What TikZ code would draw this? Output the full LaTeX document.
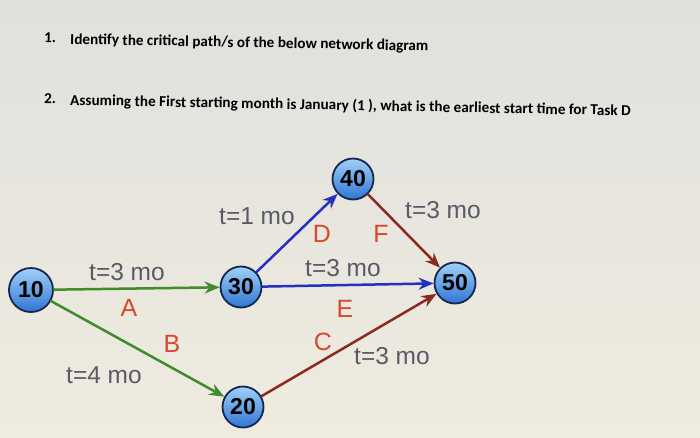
\documentclass[tikz,border=0pt]{standalone}
\usepackage{fontspec}
\setmainfont{Liberation Sans}
\newfontfamily\hdfont{Carlito}
\usetikzlibrary{arrows.meta}
\definecolor{grn}{RGB}{62,140,42}
\definecolor{blu}{RGB}{38,48,190}
\definecolor{brn}{RGB}{138,42,32}
\definecolor{lbl}{RGB}{88,90,102}
\definecolor{ltrc}{RGB}{216,72,46}
\definecolor{ring}{RGB}{22,38,78}
\definecolor{bgtop}{RGB}{224,224,221}
\definecolor{bgbot}{RGB}{239,235,223}
\definecolor{evtop}{RGB}{160,208,248}
\definecolor{evbot}{RGB}{48,118,212}
\begin{document}
\begin{tikzpicture}[x=1pt, y=-1pt, line join=round, line cap=round, >={Stealth[length=15pt,width=12pt]},
		ev/.style={circle, draw=ring, line width=1.8pt, minimum size=41pt, inner sep=0pt, top color=evtop, bottom color=evbot, font=\fontsize{23}{23}\selectfont\bfseries},
		tm/.style={text=lbl, font=\fontsize{24.5}{24}\selectfont},
		ltr/.style={text=ltrc, font=\fontsize{25}{25}\selectfont},
		hd/.style={anchor=base west, inner sep=0pt, rotate=-1.1, font=\hdfont\fontsize{15.2}{16}\selectfont\bfseries},
		act/.style={->, line width=2.5pt}]
		\shade[top color=bgtop, bottom color=bgbot] (0,0) rectangle (700,437);
		% questions
		\node[hd] (q1n) at (44,42) {1.};
		\node[hd] (q1) at (70,44) {Identify the critical path/s of the below network diagram};
		\node[hd] (q2n) at (44,103) {2.};
		\node[hd] (q2) at (70,105) {Assuming the First starting month is January (1 ), what is the earliest start time for Task D};
		% events
		\node[ev, minimum size=44pt] (n10) at (31,290) {10};
		\node[ev] (n30) at (241,287) {30};
		\node[ev] (n20) at (243,407) {20};
		\node[ev] (n40) at (353,179) {40};
		\node[ev] (n50) at (455,283) {50};
		% activities
		\draw[act, grn] (n10)--(n30);
		\draw[act, grn] (n10)--(n20);
		\draw[act, blu] (n30)--(n40);
		\draw[act, blu] (n30)--(n50);
		\draw[act, brn] (n20)--(n50);
		\draw[act, brn] (n40)--(n50);
		% durations
		\node[tm] (tA) at (127,272) {t=3 mo};
		\node[tm] (tB) at (104,375) {t=4 mo};
		\node[tm] (tD) at (257,216) {t=1 mo};
		\node[tm] (tE) at (343,268) {t=3 mo};
		\node[tm] (tF) at (443,210) {t=3 mo};
		\node[tm] (tC) at (392,356) {t=3 mo};
		% task letters
		\node[ltr] (lA) at (129,308) {A};
		\node[ltr] (lB) at (172,344) {B};
		\node[ltr] (lD) at (322,234) {D};
		\node[ltr] (lF) at (381,234) {F};
		\node[ltr] (lE) at (345,309) {E};
		\node[ltr] (lC) at (323,342) {C};
\end{tikzpicture}
\end{document}
